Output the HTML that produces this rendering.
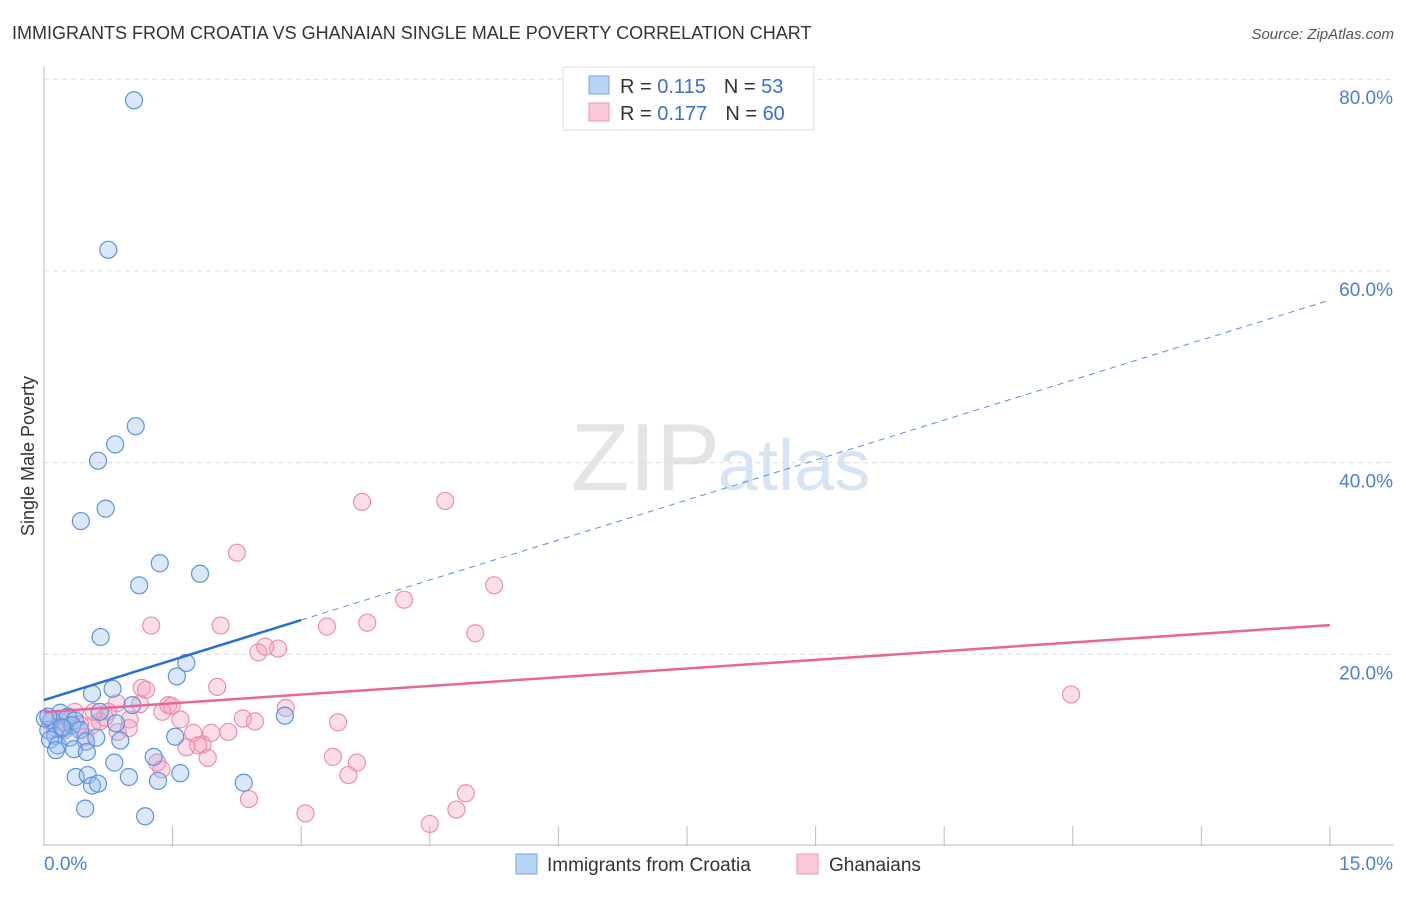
<!DOCTYPE html>
<html><head><meta charset="utf-8"><style>
body{margin:0;background:#fff;font-family:"Liberation Sans",sans-serif;}
svg text{font-family:"Liberation Sans",sans-serif;}
</style></head><body>
<svg width="1406" height="892" xmlns="http://www.w3.org/2000/svg">
<text x="12" y="39" font-size="18" fill="#333">IMMIGRANTS FROM CROATIA VS GHANAIAN SINGLE MALE POVERTY CORRELATION CHART</text>
<text x="1394" y="39" font-size="15" fill="#555" font-style="italic" text-anchor="end">Source: ZipAtlas.com</text>
<text x="720" y="490" font-size="96" fill="#e4e4e4" text-anchor="end" font-family="Liberation Serif">ZIP</text>
<text x="718" y="490" font-size="72" fill="#d6e4f5">atlas</text>
<g id="grid"></g>
<g id="axes"></g>
<g id="pts"></g>
<g id="lines"></g>
<text transform="translate(34,456) rotate(-90)" font-size="18" fill="#333" text-anchor="middle">Single Male Poverty</text>
<g>
<rect x="563" y="67" width="251" height="63" fill="#fff" stroke="#ddd"/>
<rect x="589" y="76" width="20" height="18" fill="#b8d4f5" stroke="#7aa6e0"/>
<rect x="589" y="103" width="20" height="18" fill="#fbc8d8" stroke="#ee9ab4"/>
<text x="620" y="93" font-size="20" fill="#333">R = <tspan fill="#3a6fcc">0.115</tspan><tspan dx="18">N = </tspan><tspan fill="#3a6fcc">53</tspan></text>
<text x="620" y="120" font-size="20" fill="#333">R = <tspan fill="#3a6fcc">0.177</tspan><tspan dx="18">N = </tspan><tspan fill="#3a6fcc">60</tspan></text>
</g>
<g>
<rect x="516" y="854" width="21" height="20" fill="#b8d4f5" stroke="#7aa6e0"/>
<text x="547" y="871" font-size="19" fill="#333">Immigrants from Croatia</text>
<rect x="797" y="854" width="21" height="20" fill="#fbc8d8" stroke="#ee9ab4"/>
<text x="829" y="871" font-size="19" fill="#333">Ghanaians</text>
</g>
</svg>
<script>
const yTicks=[20,40,60,80];
const yTickLabels=["20.0%","40.0%","60.0%","80.0%"];
const xTicks=[1.5,3,4.5,6,7.5,9,10.5,12,13.5,15];
const blueX=[1.05,0.75,1.07,0.83,0.63,0.43,0.72,1.35,1.11,1.82,0.66,1.66,1.55,0.56,0.80,1.03,2.81,0.09,0.19,0.28,0.36,0.05,0.13,0.23,0.33,0.42,0.07,0.16,0.30,0.84,0.49,0.61,0.89,1.53,1.28,0.82,0.37,0.51,0.99,1.33,1.59,2.33,0.56,0.63,0.48,1.18,0.14,0.35,0.50,0.21,0.65,0.01,0.05];
const blueY=[77.8,62.2,43.8,41.9,40.2,33.9,35.2,29.5,27.2,28.4,21.8,19.1,17.7,15.9,16.4,14.7,13.6,13.1,13.9,13.5,13.1,12.1,11.5,12.3,12.6,12.1,11.1,10.5,11.3,12.8,10.9,11.3,11.0,11.4,9.3,8.7,7.2,7.4,7.2,6.8,7.6,6.6,6.3,6.5,3.9,3.1,10.0,10.1,9.8,12.4,14.0,13.3,13.5];
const pinkX=[3.71,4.68,2.25,5.25,4.20,1.25,2.06,3.30,3.77,5.03,2.73,2.58,2.50,2.02,1.14,1.19,11.98,0.85,1.45,1.49,1.12,2.82,0.75,1.38,1.59,2.32,2.46,3.43,1.00,0.65,0.56,0.19,0.30,0.42,0.86,0.99,1.74,1.95,2.15,1.85,1.66,1.80,1.91,1.32,3.37,3.65,3.55,1.37,4.92,2.39,3.05,4.81,4.50,0.36,0.24,0.13,0.48,0.71,0.58,0.07];
const pinkY=[35.9,36.0,30.6,27.2,25.7,23.0,23.0,22.9,23.3,22.2,20.6,20.8,20.2,16.6,16.5,16.3,15.8,14.9,14.7,14.6,14.8,14.4,14.0,14.0,13.2,13.3,13.0,12.9,13.2,13.0,12.6,13.0,13.2,12.7,11.9,12.3,11.8,11.8,11.9,10.6,10.3,10.5,9.2,8.7,9.3,8.7,7.4,8.0,5.5,4.9,3.4,3.8,2.3,14.0,12.1,12.3,11.4,13.4,14.0,13.0];
const blueTrend=[15.23,56.96], pinkTrend=[13.98,23.05], blueSolidEnd=3.0;
const X0=44,X1=1330,Y0=846,YS=9.585;
const sx=v=>X0+v*(X1-X0)/15, sy=v=>Y0-v*YS;
const NS="http://www.w3.org/2000/svg";
function mk(t,a,p){const e=document.createElementNS(NS,t);for(const k in a)e.setAttribute(k,a[k]);p.appendChild(e);return e;}
const grid=document.getElementById('grid'),axes=document.getElementById('axes'),pts=document.getElementById('pts'),lines=document.getElementById('lines');
yTicks.forEach((v,i)=>{
 const l=mk('line',{x1:X0,x2:1394,y1:sy(v),y2:sy(v),stroke:'#ddd','stroke-dasharray':'5,4'},grid);
 
 
 const t=mk('text',{x:1393,y:sy(v)+25,'font-size':19,fill:'#4a7fd4','text-anchor':'end'},axes);
 t.textContent=yTickLabels[i];
 
 
});
const ya=mk('line',{x1:X0,x2:X0,y1:66,y2:Y0,stroke:'#bbb'},axes);


const xa=mk('line',{x1:X0,x2:1394,y1:Y0-1,y2:Y0-1,stroke:'#bbb'},axes);


xTicks.forEach(v=>{
 const l=mk('line',{x1:sx(v),x2:sx(v),y1:Y0-20,y2:Y0,stroke:'#bbb'},axes);
 
 
});
const xl0=mk('text',{x:44,y:870,'font-size':19,fill:'#4a7fd4'},axes);xl0.textContent='0.0%';


const xl1=mk('text',{x:1393,y:870,'font-size':19,fill:'#4a7fd4','text-anchor':'end'},axes);xl1.textContent='15.0%';


pinkX.forEach((v,i)=>{
 const c=mk('circle',{cx:sx(v),cy:sy(pinkY[i]),r:8.5,fill:'rgba(246,160,190,0.35)',stroke:'#ec8fae','stroke-width':1.2},pts);
 
 
});
blueX.forEach((v,i)=>{
 const c=mk('circle',{cx:sx(v),cy:sy(blueY[i]),r:8.5,fill:'rgba(150,190,240,0.35)',stroke:'#5b93dc','stroke-width':1.2},pts);
 
 
});
const bt=v=>blueTrend[0]+(blueTrend[1]-blueTrend[0])*v/15;
const b1=mk('line',{x1:sx(0),y1:sy(bt(0)),x2:sx(blueSolidEnd),y2:sy(bt(blueSolidEnd)),stroke:'#2a6fd6','stroke-width':2.5},lines);


const b2=mk('line',{x1:sx(blueSolidEnd),y1:sy(bt(blueSolidEnd)),x2:sx(15),y2:sy(bt(15)),stroke:'#5b8fd8','stroke-width':1,'stroke-dasharray':'6,5'},lines);


const p1=mk('line',{x1:sx(0),y1:sy(pinkTrend[0]),x2:sx(15),y2:sy(pinkTrend[1]),stroke:'#e8669a','stroke-width':2.5},lines);


</script>
</body></html>
